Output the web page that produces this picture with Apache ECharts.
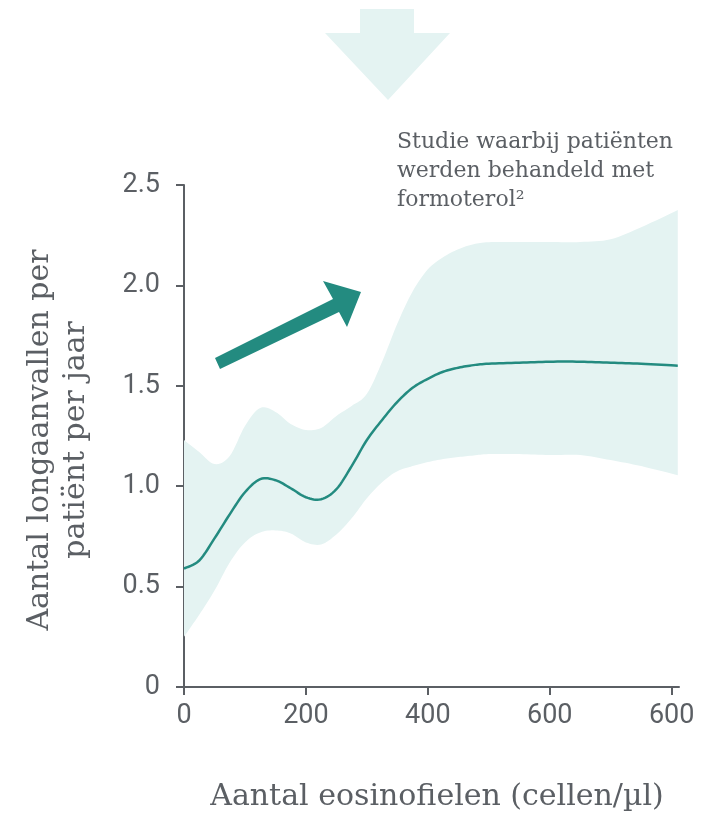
<!DOCTYPE html>
<html><head><meta charset="utf-8">
<script src="https://cdn.jsdelivr.net/npm/echarts@6/dist/echarts.min.js"></script>
<style>html,body{margin:0;padding:0;background:#fff}#c{width:705px;height:816px}</style>
</head><body><div id="c"></div>
<script>
const xValues     = [0,25,50,75,100,125,150,175,200,225,250,275,300,325,350,375,400,425,450,475,500,550,600,650,700,750,810];
const meanValues  = [0.59,0.63,0.74,0.86,0.97,1.035,1.03,0.99,0.945,0.935,0.985,1.10,1.23,1.33,1.42,1.49,1.535,1.57,1.59,1.603,1.61,1.615,1.62,1.62,1.615,1.61,1.60];
const upperValues = [1.23,1.17,1.11,1.15,1.30,1.39,1.37,1.31,1.28,1.29,1.35,1.40,1.46,1.62,1.81,1.97,2.08,2.14,2.18,2.205,2.215,2.216,2.216,2.216,2.23,2.29,2.375];
const lowerValues = [0.25,0.36,0.48,0.62,0.72,0.77,0.78,0.765,0.72,0.71,0.76,0.84,0.94,1.02,1.075,1.10,1.12,1.135,1.145,1.153,1.16,1.16,1.155,1.155,1.13,1.10,1.055];
const xTicks = [0,200,400,600,800];
const xTickLabels = ['0','200','400','600','600'];
const yTickLabels = {0:'0',0.5:'0.5',1:'1.0',1.5:'1.5',2:'2.0',2.5:'2.5'};
const yTitle = ['Aantal longaanvallen per','patiënt per jaar'];
const xTitle = 'Aantal eosinofielen (cellen/µl)';
const noteLines = ['Studie waarbij patiënten','werden behandeld met','formoterol²'];

const axisColor = '#5b5f64';
const textColor = '#5b5f64';
const teal = '#238b80';
const band = '#e4f3f2';
const serif = '"DejaVu Serif", serif';

// Catmull-Rom smoothing of pixel points (drawing only)
function spline(pts, steps){
  const out=[];
  for(let i=0;i<pts.length-1;i++){
    const p0=pts[Math.max(0,i-1)], p1=pts[i], p2=pts[i+1], p3=pts[Math.min(pts.length-1,i+2)];
    for(let s=0;s<steps;s++){
      const t=s/steps, t2=t*t, t3=t2*t;
      const f=(a,b,c,d)=>0.5*((2*b)+(-a+c)*t+(2*a-5*b+4*c-d)*t2+(-a+3*b-3*c+d)*t3);
      out.push([f(p0[0],p1[0],p2[0],p3[0]), f(p0[1],p1[1],p2[1],p3[1])]);
    }
  }
  out.push(pts[pts.length-1]);
  return out;
}

const chart = echarts.init(document.getElementById('c'), null, {renderer:'canvas'});
chart.setOption({
  animation:false,
  grid:{left:184, top:185, right:26, bottom:129, containLabel:false},
  xAxis:{type:'value', min:0, max:812,
    axisLine:{show:true, lineStyle:{color:axisColor, width:2}},
    axisTick:{show:true, length:8, customValues:xTicks, lineStyle:{color:axisColor, width:2}},
    splitLine:{show:false},
    axisLabel:{color:textColor, fontFamily:'Roboto', fontSize:27, margin:16, customValues:xTicks,
      formatter:v=>xTickLabels[xTicks.indexOf(v)]}
  },
  yAxis:{type:'value', min:0, max:2.5, interval:0.5,
    axisLine:{show:true, lineStyle:{color:axisColor, width:2}},
    axisTick:{show:true, length:8, lineStyle:{color:axisColor, width:2}},
    splitLine:{show:false},
    axisLabel:{color:textColor, fontFamily:'Roboto', fontSize:27, margin:24,
      formatter:v=>yTickLabels[v]}
  },
  series:[
    {type:'custom', data:[0], z:1, silent:true,
      renderItem:(params, api)=>{
        const up = spline(xValues.map((x,i)=>api.coord([x,upperValues[i]])), 8);
        const lo = spline(xValues.map((x,i)=>api.coord([x,lowerValues[i]])), 8).reverse();
        return {type:'polygon', shape:{points:up.concat(lo)}, style:{fill:band}};
      }},
    {type:'custom', data:[0], z:5, silent:true,
      renderItem:(params, api)=>{
        const m = spline(xValues.map((x,i)=>api.coord([x,meanValues[i]])), 8);
        return {type:'polyline', shape:{points:m}, style:{stroke:teal, lineWidth:2.5, fill:null}};
      }}
  ],
  graphic:[
    {type:'polygon', z:100, shape:{points:[[360,9],[414,9],[414,33],[450,33],[388,100],[325,33],[360,33]]},
      style:{fill:band}},
    {type:'polygon', z:100, shape:{points:[[215,358],[333,299],[323,281],[361,292],[347,327],[339,312],[220,369]]},
      style:{fill:teal}},
    {type:'text', z:100, left:397, top:128, style:{text:noteLines.join('\n'), font:'22px '+serif, fill:textColor, lineHeight:29}},
    {type:'text', z:100, x:40, y:440, rotation:Math.PI/2, style:{text:yTitle[0], font:'30px '+serif, fill:textColor, align:'center', verticalAlign:'middle'}},
    {type:'text', z:100, x:76, y:440, rotation:Math.PI/2, style:{text:yTitle[1], font:'30px '+serif, fill:textColor, align:'center', verticalAlign:'middle'}},
    {type:'text', z:100, x:437, y:797, style:{text:xTitle, font:'30px '+serif, fill:textColor, align:'center', verticalAlign:'middle'}}
  ]
});
</script></body></html>
